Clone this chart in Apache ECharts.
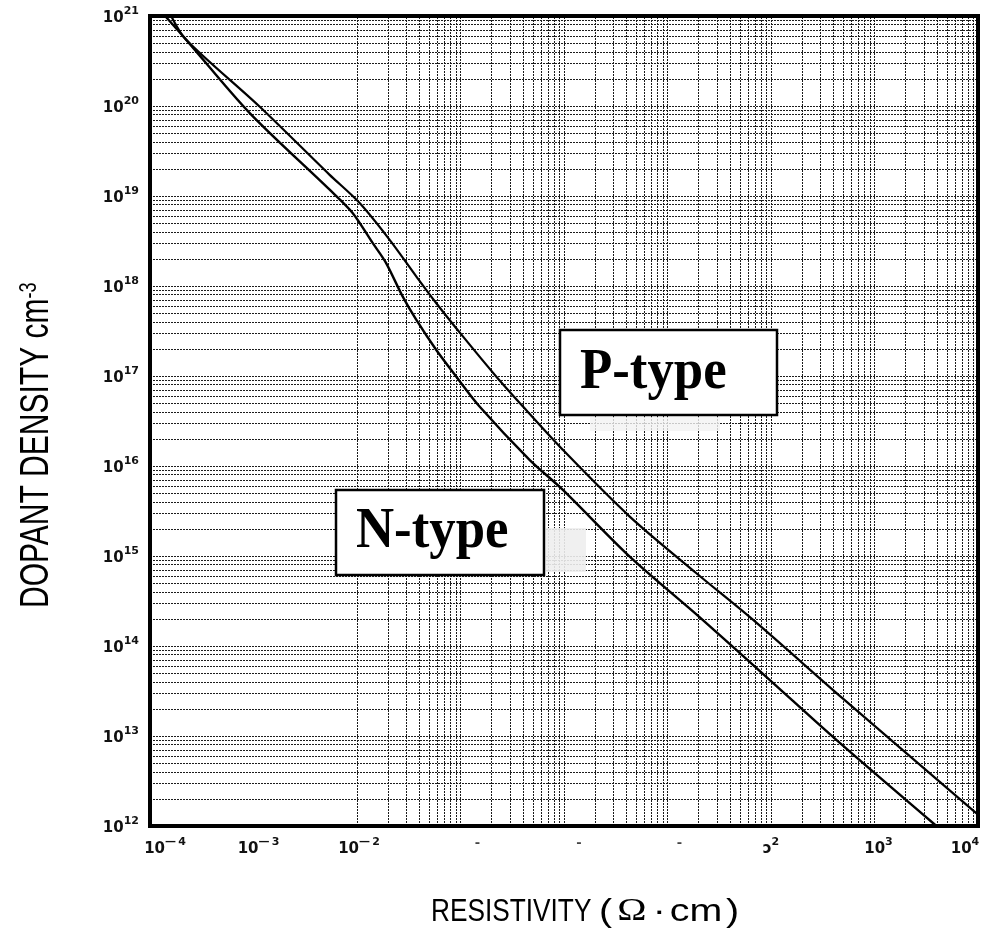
<!DOCTYPE html>
<html>
<head>
<meta charset="utf-8">
<script src="https://cdn.jsdelivr.net/npm/echarts@6/dist/echarts.min.js"></script>
<style>html,body{margin:0;padding:0;background:#fff;}#c{width:999px;height:932px;}</style>
</head>
<body>
<div id="c"></div>
<script>
// ---- data ----
const nTypeResistivity = [1.40e-4, 2.21e-4, 9.05e-4, 5.38e-3, 9.03e-3, 1.41e-2, 1.90e-2, 2.75e-2, 3.72e-2, 5.79e-2, 9.03e-2, 0.152, 0.462, 0.970, 4.29, 20.4, 96.9, 428, 3970];
const nTypeDensity     = [1e21, 5.53e20, 8.5e19, 1.19e19, 6.53e18, 3.03e18, 1.82e18, 7.72e17, 4.25e17, 1.97e17, 9.95e16, 4.61e16, 1.18e16, 5.46e15, 9.9e14, 2.09e14, 4.21e13, 9.05e12, 1e12];
const pTypeResistivity = [1.60e-4, 2.21e-4, 1.13e-3, 5.38e-3, 1.05e-2, 2.05e-2, 3.72e-2, 5.79e-2, 0.105, 0.220, 0.399, 0.970, 4.29, 18.9, 66.8, 496, 9670];
const pTypeDensity     = [1e21, 5.53e20, 1.0e20, 1.74e19, 8.45e18, 3.30e18, 1.29e18, 6.52e17, 2.77e17, 9.95e16, 4.61e16, 1.52e16, 2.76e15, 6.47e14, 1.96e14, 2.6e13, 1.38e12];
const xTickText = ['10^\u2014\u20094', '10^\u2014\u20093', '10^\u2014\u20092', '-', '-', '-', '\u0254^2', '10^3', '10^4'];
const yTickText = ['10^12', '10^13', '10^14', '10^15', '10^16', '10^17', '10^18', '10^19', '10^20', '10^21'];
const xMinExp = -4, xMaxExp = 4, yMinExp = 12, yMaxExp = 21;

// ---- styling helpers (layout only) ----
const xLabelShift = [15, 5, 2, 17, 15, 12, 0, 4, -13];
function zip(xs, ys) { return xs.map((x, i) => [x, ys[i]]); }
function gridValues(lo, hi) {
  const out = [];
  for (let e = lo; e < hi; e++) {
    for (let m = 1; m <= 9; m++) {
      if (m === 1 && e === lo) continue;
      out.push(m * Math.pow(10, e));
    }
  }
  return out;
}
const font = 'DejaVu Sans';
const baseB = { fontFamily: font, fontWeight: 'bold', fontSize: 15, color: '#111', lineHeight: 20, verticalAlign: 'bottom' };
const baseS = { fontFamily: font, fontWeight: 'bold', fontSize: 11, color: '#111', lineHeight: 12, verticalAlign: 'top' };
const baseD = { fontFamily: font, fontWeight: 'bold', fontSize: 13, color: '#444', lineHeight: 20, verticalAlign: 'top' };
const xRich = {};
xLabelShift.forEach((s, i) => {
  const pl = s > 0 ? 2 * s : 0, pr = s < 0 ? -2 * s : 0;
  xRich['b' + i] = Object.assign({}, baseB, { padding: [0, 0, 0, pl] });
  xRich['s' + i] = Object.assign({}, baseS, { padding: [0, pr, 0, 0] });
  xRich['d' + i] = Object.assign({}, baseD, { padding: [0, pr, 0, pl] });
});
function richTick(t, i, keyed) {
  const k = keyed ? String(i) : '';
  if (t.indexOf('^') < 0) return '{d' + k + '|' + t + '}';
  const p = t.split('^');
  return '{b' + k + '|' + p[0] + '}{s' + k + '|' + p[1] + '}';
}
const gridStyle = { type: [2, 1], color: '#1c1c1c', width: 1 };

const chart = echarts.init(document.getElementById('c'), null, { renderer: 'canvas' });
chart.setOption({
  animation: false,
  backgroundColor: '#fff',
  grid: { left: 150, right: 21, top: 16, bottom: 106, outerBoundsMode: 'none', containLabel: false,
          show: true, borderWidth: 4, borderColor: '#000', backgroundColor: 'transparent', z: 10 },
  xAxis: {
    type: 'log', logBase: 10, min: Math.pow(10, xMinExp), max: Math.pow(10, xMaxExp), interval: 1,
    axisLine: { show: false }, axisTick: { show: false }, splitLine: { show: false },
    axisLabel: {
      margin: 11, showMinLabel: true, showMaxLabel: true, hideOverlap: false,
      formatter: v => { const i = Math.round(Math.log10(v)) - xMinExp; return richTick(xTickText[i], i, true); },
      rich: xRich
    }
  },
  yAxis: {
    type: 'log', logBase: 10, min: Math.pow(10, yMinExp), max: Math.pow(10, yMaxExp), interval: 1,
    axisLine: { show: false }, axisTick: { show: false }, splitLine: { show: false },
    axisLabel: {
      margin: 11, showMinLabel: true, showMaxLabel: true,
      formatter: v => { const i = Math.round(Math.log10(v)) - yMinExp; return richTick(yTickText[i], i, false); },
      rich: { b: baseB, s: baseS, d: baseD }
    }
  },
  series: [
    {
      type: 'line', name: 'grid', data: [], z: 1, silent: true,
      markLine: {
        silent: true, symbol: ['none', 'none'], label: { show: false }, lineStyle: gridStyle, animation: false,
        emphasis: { disabled: true },
        data: gridValues(xMinExp, xMaxExp).map(v => ({ xAxis: v })).concat(gridValues(yMinExp, yMaxExp).map(v => ({ yAxis: v })))
      }
    },
    {
      type: 'line', name: 'N-type', data: zip(nTypeResistivity, nTypeDensity), z: 5,
      showSymbol: false, smooth: 0.3, lineStyle: { color: '#000', width: 2.4 }, clip: true
    },
    {
      type: 'line', name: 'P-type', data: zip(pTypeResistivity, pTypeDensity), z: 5,
      showSymbol: false, smooth: 0.3, lineStyle: { color: '#000', width: 2.2 }, clip: true
    }
  ],
  graphic: [
    { type: 'rect', shape: { x: 590, y: 417, width: 130, height: 14 }, style: { fill: 'rgba(242,242,242,0.8)' }, z: 20, silent: true },
    { type: 'rect', shape: { x: 546, y: 528, width: 40, height: 44 }, style: { fill: 'rgba(238,238,238,0.9)' }, z: 20, silent: true },
    { type: 'rect', shape: { x: 560, y: 330, width: 217, height: 85 }, style: { fill: '#fff', stroke: '#000', lineWidth: 2.5 }, z: 21 },
    { type: 'text', x: 580, y: 373, scaleX: 0.91, z: 22,
      style: { text: 'P-type', font: 'bold 58px "Liberation Serif", "DejaVu Serif", serif', fill: '#000', align: 'left', verticalAlign: 'middle' } },
    { type: 'rect', shape: { x: 336, y: 490, width: 208, height: 85 }, style: { fill: '#fff', stroke: '#000', lineWidth: 2.5 }, z: 21 },
    { type: 'text', x: 356, y: 532, scaleX: 0.91, z: 22,
      style: { text: 'N-type', font: 'bold 58px "Liberation Serif", "DejaVu Serif", serif', fill: '#000', align: 'left', verticalAlign: 'middle' } },
    { type: 'text', x: 37, y: 608, rotation: Math.PI / 2, scaleX: 0.75, z: 22,
      style: {
        text: '{m|DOPANT DENSITY cm}{s|-3}', align: 'left', verticalAlign: 'middle', fill: '#000',
        rich: {
          m: { fontFamily: 'Liberation Sans', fontSize: 40, lineHeight: 40, verticalAlign: 'bottom', fill: '#000' },
          s: { fontFamily: 'Liberation Sans', fontSize: 24, lineHeight: 24, verticalAlign: 'top', fill: '#000' }
        }
      } },
    { type: 'text', x: 431, y: 912, scaleX: 0.82, z: 22,
      style: { text: 'RESISTIVITY', font: '32px "Liberation Sans"', fill: '#000', align: 'left', verticalAlign: 'middle' } },
    { type: 'text', x: 599, y: 912, scaleX: 1.27, z: 22,
      style: {
        text: '{a|(}{o|\u03A9}{m|\u00B7}{a|cm}{p|)}', align: 'left', verticalAlign: 'middle', fill: '#000',
        rich: {
          a: { fontFamily: 'Liberation Sans', fontSize: 31, fill: '#000' },
          o: { fontFamily: 'Liberation Serif', fontSize: 31, fill: '#000', padding: [0, 3, 0, 4] },
          m: { fontFamily: 'Liberation Sans', fontSize: 31, fill: '#000', padding: [0, 3, 0, 2] },
          p: { fontFamily: 'Liberation Sans', fontSize: 31, fill: '#000', padding: [0, 0, 0, 3] }
        }
      } }
  ]
});
</script>
</body>
</html>
